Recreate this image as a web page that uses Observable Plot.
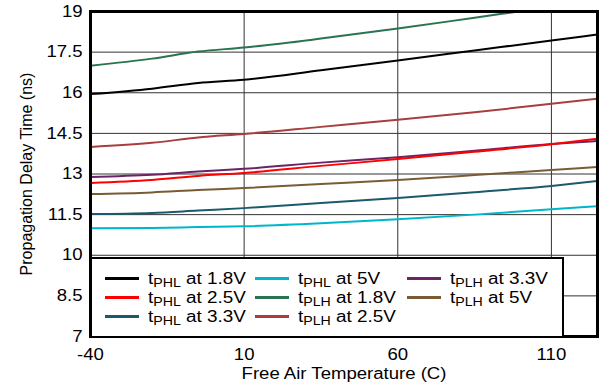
<!DOCTYPE html>
<html>
<head>
<meta charset="utf-8">
<script src="https://cdn.jsdelivr.net/npm/d3@7"></script>
<script src="https://cdn.jsdelivr.net/npm/@observablehq/plot@0.6"></script>
<style>
  html, body { margin: 0; padding: 0; background: #fff; }
  #wrap { position: relative; width: 602px; height: 389px; font-family: "Liberation Sans", Arial, sans-serif; }
  #legend { position: absolute; left: 90px; top: 257px; width: 470px; height: 77px; background: #fff; border: 2px solid #000; }
  .item { position: absolute; height: 19px; font-size: 16px; line-height: 19px; color: #000; white-space: nowrap; }
  .sw { position: absolute; top: 8px; width: 34px; height: 3px; }
  .lab { position: absolute; left: 43px; top: 0; display: inline-block; transform: scaleX(1.18); transform-origin: 0 50%; }
  .lab sub { font-size: 12px; vertical-align: -3px; line-height: 0; }
</style>
</head>
<body>
<div id="wrap"></div>
<script>
const temps = [-40, -20, -5, 10, 35, 60, 85, 110, 125];
const seriesKeys = ["phl18", "phl25", "phl33", "phl5", "plh18", "plh25", "plh33", "plh5"];
const seriesMain = ["t", "t", "t", "t", "t", "t", "t", "t"];
const seriesSub = ["PHL", "PHL", "PHL", "PHL", "PLH", "PLH", "PLH", "PLH"];
const seriesRest = [" at 1.8V", " at 2.5V", " at 3.3V", " at 5V", " at 1.8V", " at 2.5V", " at 3.3V", " at 5V"];
const seriesColors = ["#000000", "#ff0000", "#1b5a6c", "#00b6cc", "#2a7350", "#a83e3e", "#6b2466", "#7a5c34"];

const phl18 = [15.95, 16.15, 16.36, 16.48, 16.83, 17.19, 17.56, 17.93, 18.15];
const phl25 = [12.67, 12.78, 12.93, 13.04, 13.30, 13.55, 13.82, 14.10, 14.30];
const phl33 = [11.52, 11.56, 11.65, 11.74, 11.93, 12.11, 12.33, 12.56, 12.74];
const phl5  = [11.00, 11.01, 11.04, 11.07, 11.18, 11.33, 11.50, 11.70, 11.81];
const plh18 = [17.00, 17.26, 17.52, 17.67, 18.00, 18.37, 18.77, 19.17, 19.40];
const plh25 = [14.00, 14.15, 14.35, 14.48, 14.74, 15.00, 15.28, 15.59, 15.78];
const plh33 = [12.89, 12.97, 13.09, 13.19, 13.42, 13.62, 13.86, 14.11, 14.22];
const plh5  = [12.26, 12.32, 12.41, 12.48, 12.63, 12.78, 12.96, 13.15, 13.26];

const xTicks = [-40, 10, 60, 110];
const yTicks = [7, 8.5, 10, 11.5, 13, 14.5, 16, 17.5, 19];
const xTickLabels = ["-40", "10", "60", "110"];
const yTickLabels = ["7", "8.5", "10", "11.5", "13", "14.5", "16", "17.5", "19"];

const valuesBySeries = { phl18, phl25, phl33, phl5, plh18, plh25, plh33, plh5 };
const rows = [];
seriesKeys.forEach((k) => {
  valuesBySeries[k].forEach((v, i) => rows.push({ series: k, t: temps[i], v }));
});
const drawOrder = ["plh18", "phl18", "plh25", "plh33", "phl25", "plh5", "phl33", "phl5"];

const chart = Plot.plot({
  width: 602,
  height: 389,
  marginLeft: 90,
  marginRight: 5,
  marginTop: 11,
  marginBottom: 53,
  style: { fontFamily: "Liberation Sans, Arial, sans-serif", fontSize: "16px", color: "#000", background: "#fff" },
  x: { domain: [-40, 125] },
  y: { domain: [7, 19] },
  color: { domain: seriesKeys, range: seriesColors },
  marks: [
    Plot.gridX(xTicks, { stroke: "#333", strokeOpacity: 1, strokeWidth: 1 }),
    Plot.gridY(yTicks, { stroke: "#333", strokeOpacity: 1, strokeWidth: 1 }),
    ...drawOrder.map(k => Plot.line(rows.filter(r => r.series === k), {
      x: "t", y: "v", stroke: "series", strokeWidth: 2, curve: "monotone-x", clip: true
    })),
    Plot.frame({ stroke: "#000", strokeWidth: 3 }),
    Plot.axisX(xTicks, { tickSize: 0, tickPadding: 12, fontSize: 16, tickFormat: d => xTickLabels[xTicks.indexOf(d)], label: "Free Air Temperature (C)", labelAnchor: "center", labelArrow: "none", labelOffset: 42 }),
    Plot.axisY(yTicks, { tickSize: 0, tickPadding: 8, fontSize: 16, tickFormat: d => yTickLabels[yTicks.indexOf(d)], label: "Propagation Delay Time (ns)", labelAnchor: "center", labelArrow: "none", labelOffset: 70 })
  ]
});

const wrap = document.getElementById("wrap");
wrap.appendChild(chart);

// horizontal stretch of horizontal texts, as in the reference
const stretch = 1.16;
chart.querySelectorAll('g[aria-label="x-axis tick label"] text, g[aria-label="y-axis tick label"] text, g[aria-label="x-axis label"] text').forEach(t => {
  const len = t.getComputedTextLength();
  if (len > 0) {
    t.setAttribute("textLength", (len * stretch).toFixed(2));
    t.setAttribute("lengthAdjust", "spacingAndGlyphs");
  }
});

const legend = document.createElement("div");
legend.id = "legend";
const colX = [13, 163, 315];
const rowY = [10, 29, 48];
seriesKeys.forEach((k, i) => {
  const col = Math.floor(i / 3), row = i % 3;
  const item = document.createElement("div");
  item.className = "item";
  item.style.left = colX[col] + "px";
  item.style.top = rowY[row] + "px";
  const sw = document.createElement("div");
  sw.className = "sw";
  sw.style.background = seriesColors[i];
  const lab = document.createElement("span");
  lab.className = "lab";
  lab.innerHTML = seriesMain[i] + "<sub>" + seriesSub[i] + "</sub>" + seriesRest[i];
  item.appendChild(sw);
  item.appendChild(lab);
  legend.appendChild(item);
});
wrap.appendChild(legend);
</script>
</body>
</html>
